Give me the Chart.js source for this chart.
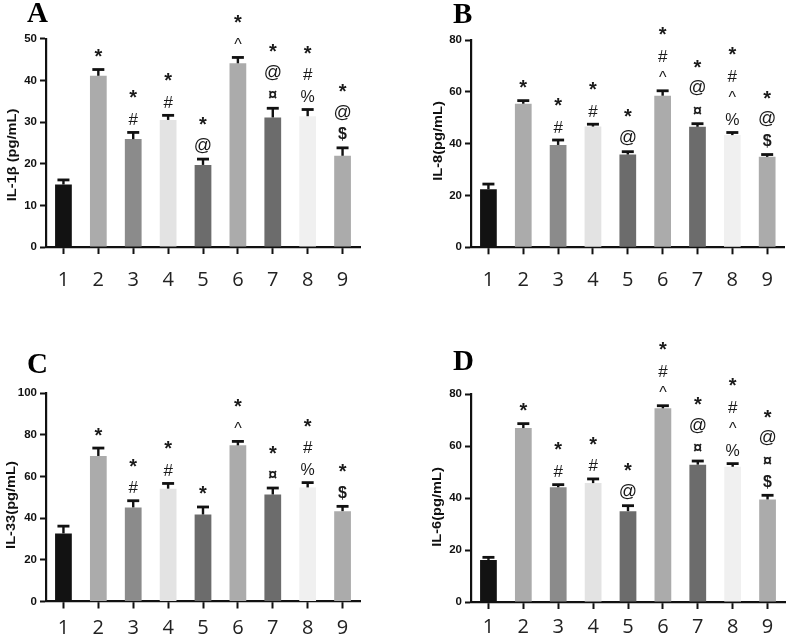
<!DOCTYPE html>
<html>
<head>
<meta charset="utf-8">
<script src="https://cdn.jsdelivr.net/npm/chart.js@4.4.0/dist/chart.umd.min.js"></script>
<style>
  html, body { margin: 0; padding: 0; background: #ffffff; }
  body { width: 787px; height: 637px; position: relative; overflow: hidden; }
  canvas { position: absolute; }
</style>
</head>
<body>
<canvas id="cA" width="390" height="300" style="left:0px;top:0px;"></canvas>
<canvas id="cB" width="397" height="300" style="left:390px;top:0px;"></canvas>
<canvas id="cC" width="390" height="317" style="left:0px;top:320px;"></canvas>
<canvas id="cD" width="397" height="317" style="left:390px;top:320px;"></canvas>
<script>
// ---------- data ----------
const groups = ['1', '2', '3', '4', '5', '6', '7', '8', '9'];

const il1bMean = [15.0, 41.1, 25.9, 30.5, 19.7, 44.1, 31.1, 31.4, 21.9];
const il1bErr  = [1.1, 1.5, 1.6, 1.1, 1.4, 1.4, 2.2, 1.6, 1.9];
const il1bMarks = [[], ['*'], ['*', '#'], ['*', '#'], ['*', '@'], ['*', '^'], ['*', '@', '¤'], ['*', '#', '%'], ['*', '@', '$']];

const il8Mean = [22.4, 55.4, 39.5, 46.6, 35.8, 58.5, 46.5, 43.3, 34.9];
const il8Err  = [2.0, 1.2, 1.9, 0.9, 1.1, 1.9, 1.2, 1.0, 0.9];
const il8Marks = [[], ['*'], ['*', '#'], ['*', '#'], ['*', '@'], ['*', '#', '^'], ['*', '@', '¤'], ['*', '#', '^', '%'], ['*', '@', '$']];

const il33Mean = [32.7, 69.9, 45.2, 54.2, 41.8, 75.0, 51.4, 54.8, 43.4];
const il33Err  = [3.5, 3.8, 3.2, 2.5, 3.6, 1.9, 3.1, 2.3, 2.3];
const il33Marks = [[], ['*'], ['*', '#'], ['*', '#'], ['*'], ['*', '^'], ['*', '¤'], ['*', '#', '%'], ['*', '$']];

const il6Mean = [16.2, 67.0, 44.2, 45.8, 35.0, 74.6, 52.9, 52.1, 39.5];
const il6Err  = [1.0, 1.7, 1.0, 1.6, 2.1, 1.0, 1.4, 1.2, 1.6];
const il6Marks = [[], ['*'], ['*', '#'], ['*', '#'], ['*', '@'], ['*', '#', '^'], ['*', '@', '¤'], ['*', '#', '^', '%'], ['*', '@', '¤', '$']];

const yMaxA = 50, yMaxB = 80, yMaxC = 100, yMaxD = 80;
const yStepA = 10, yStepB = 20, yStepC = 20, yStepD = 20;

// ---------- styles ----------
const barColors = ['#121212', '#ababab', '#8b8b8b', '#e3e3e3', '#6c6c6c', '#ababab', '#6c6c6c', '#f0f0f0', '#ababab'];
const FAM = '"Liberation Sans", Arial, sans-serif';
const symStyle = {
  '*': { font: 'bold 20px ' + FAM, raise: 3 },
  '^': { font: '16px ' + FAM, raise: 3 },
  '#': { font: '17px ' + FAM, raise: 0 },
  '@': { font: '18px ' + FAM, raise: 0 },
  '%': { font: '16px ' + FAM, raise: 0 },
  '$': { font: 'bold 16px ' + FAM, raise: 0 },
  '¤': { font: 'bold 16px ' + FAM, raise: 0 }
};

const extrasPlugin = {
  id: 'extras',
  afterDraw(chart) {
    const o = chart.options.plugins.extras;
    const ctx = chart.ctx;
    const ys = chart.scales.y;
    const meta = chart.getDatasetMeta(0);
    ctx.save();
    meta.data.forEach((bar, i) => {
      const v = o.means[i], e = o.errs[i];
      const yTop = ys.getPixelForValue(v);
      const yCap = ys.getPixelForValue(v + e);
      ctx.strokeStyle = '#111';
      ctx.lineWidth = 2.4;
      ctx.beginPath(); ctx.moveTo(bar.x, yTop); ctx.lineTo(bar.x, yCap); ctx.stroke();
      ctx.lineWidth = 2.8;
      ctx.beginPath(); ctx.moveTo(bar.x - 6, yCap); ctx.lineTo(bar.x + 6, yCap); ctx.stroke();
      const marks = o.marks[i];
      const n = marks.length;
      ctx.fillStyle = '#1a1a1a';
      ctx.textAlign = 'center';
      ctx.textBaseline = 'alphabetic';
      marks.forEach((m, j) => {
        const level = n - 1 - j;
        const st = symStyle[m];
        ctx.font = st.font;
        const mt = ctx.measureText(m);
        const cy = yCap - 13.5 - 21.7 * level - st.raise;
        ctx.fillText(m, bar.x, cy + (mt.actualBoundingBoxAscent - mt.actualBoundingBoxDescent) / 2);
      });
    });
    // y-axis title
    ctx.save();
    ctx.translate(o.titleX, o.titleY);
    ctx.rotate(-Math.PI / 2);
    ctx.scale(1.22, 1);
    ctx.font = 'bold 12px ' + FAM;
    ctx.fillStyle = '#111';
    ctx.textAlign = 'center';
    ctx.textBaseline = 'middle';
    ctx.fillText(o.title, 0, 0);
    ctx.restore();
    // panel letter
    ctx.font = 'bold 29px "Liberation Serif", "Times New Roman", serif';
    ctx.fillStyle = '#000';
    ctx.textAlign = 'left';
    ctx.textBaseline = 'alphabetic';
    ctx.fillText(o.letter, o.letterX, o.letterBase);
    ctx.restore();
  }
};

function makePanel(p) {
  const canvas = document.getElementById(p.id);
  const W = canvas.width, H = canvas.height;
  return new Chart(canvas, {
    type: 'bar',
    data: {
      labels: groups,
      datasets: [{
        data: p.means,
        backgroundColor: barColors,
        borderWidth: 0,
        barPercentage: 0.48,
        categoryPercentage: 1.0
      }]
    },
    options: {
      responsive: false,
      animation: false,
      layout: { padding: { left: 0, bottom: 0, top: p.top, right: W - p.right } },
      plugins: {
        legend: { display: false },
        tooltip: { enabled: false },
        extras: {
          means: p.means, errs: p.errs, marks: p.marks,
          title: p.title, titleX: p.titleX, titleY: p.titleY,
          letter: p.letter, letterX: p.letterX, letterBase: p.letterBase
        }
      },
      scales: {
        x: {
          type: 'category',
          offset: true,
          afterFit: (s) => { s.height = H - p.bottom; },
          grid: { display: true, drawOnChartArea: false, drawTicks: true, tickLength: 7, tickWidth: 2, tickColor: '#111', offset: false },
          border: { display: true, color: '#111', width: 2.2 },
          ticks: { color: '#222', padding: p.xPad, font: { family: '"Open Sans", "Noto Sans", sans-serif', size: 20 } }
        },
        y: {
          min: 0, max: p.max,
          afterFit: (s) => { s.width = p.left; },
          grid: { display: true, drawOnChartArea: false, drawTicks: true, tickLength: 6, tickWidth: 2, tickColor: '#111' },
          border: { display: true, color: '#111', width: 2.2 },
          ticks: { stepSize: p.step, color: '#111', padding: 3, font: { family: FAM, size: 11.5, weight: 'bold' } }
        }
      }
    },
    plugins: [extrasPlugin]
  });
}

makePanel({ id: 'cA', means: il1bMean, errs: il1bErr, marks: il1bMarks, max: yMaxA, step: yStepA,
  left: 46, right: 360, top: 38.7, bottom: 247, xPad: 14,
  title: 'IL-1β (pg/mL)', titleX: 12.7, titleY: 155, letter: 'A', letterX: 27, letterBase: 22.2 });
makePanel({ id: 'cB', means: il8Mean, errs: il8Err, marks: il8Marks, max: yMaxB, step: yStepB,
  left: 81, right: 395, top: 40, bottom: 247.3, xPad: 14,
  title: 'IL-8(pg/mL)', titleX: 48.3, titleY: 141, letter: 'B', letterX: 63, letterBase: 23 });
makePanel({ id: 'cC', means: il33Mean, errs: il33Err, marks: il33Marks, max: yMaxC, step: yStepC,
  left: 46, right: 360, top: 73.3, bottom: 281.5, xPad: 8,
  title: 'IL-33(pg/mL)', titleX: 11.7, titleY: 185, letter: 'C', letterX: 27, letterBase: 53 });
makePanel({ id: 'cD', means: il6Mean, errs: il6Err, marks: il6Marks, max: yMaxD, step: yStepD,
  left: 81, right: 395, top: 74.3, bottom: 282, xPad: 6,
  title: 'IL-6(pg/mL)', titleX: 48, titleY: 187, letter: 'D', letterX: 63, letterBase: 50 });
</script>
</body>
</html>
